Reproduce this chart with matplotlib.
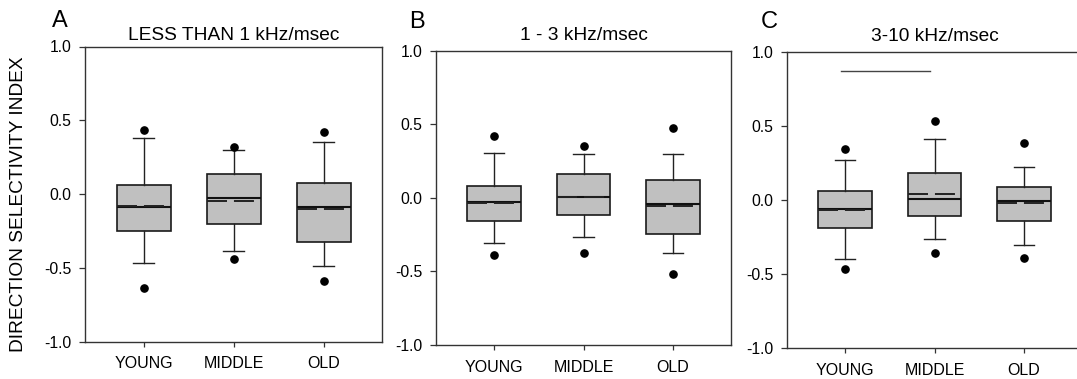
import matplotlib
matplotlib.use("Agg")
import matplotlib.pyplot as plt

plt.rcParams['font.family'] = ['Liberation Sans', 'DejaVu Sans']

groups = ["YOUNG", "MIDDLE", "OLD"]
panel_letters = ["A", "B", "C"]
titles = ["LESS THAN 1 kHz/msec", "1 - 3 kHz/msec", "3-10 kHz/msec"]

# per panel: [YOUNG, MIDDLE, OLD]
whishi = [[0.38, 0.299, 0.355], [0.303, 0.300, 0.300], [0.274, 0.414, 0.227]]
q3     = [[0.060, 0.138, 0.075], [0.081, 0.165, 0.122], [0.064, 0.184, 0.092]]
med    = [[-0.090, -0.030, -0.088], [-0.030, 0.008, -0.044], [-0.060, 0.006, -0.003]]
mean   = [[-0.084, -0.046, -0.100], [-0.033, 0.006, -0.057], [-0.066, 0.040, -0.019]]
q1     = [[-0.250, -0.202, -0.323], [-0.157, -0.118, -0.245], [-0.186, -0.107, -0.139]]
whislo = [[-0.466, -0.388, -0.489], [-0.304, -0.266, -0.374], [-0.395, -0.265, -0.301]]
flier_hi = [[0.435, 0.319, 0.420], [0.418, 0.355, 0.477], [0.346, 0.538, 0.387]]
flier_lo = [[-0.636, -0.440, -0.587], [-0.386, -0.377, -0.517], [-0.465, -0.359, -0.389]]

sig_y = 0.876
sig_x = [0.95, 1.95]

yticks = [-1.0, -0.5, 0.0, 0.5, 1.0]
ytick_labels = ["-1.0", "-0.5", "0.0", "0.5", "1.0"]

W, H = 1077, 379
fig = plt.figure(figsize=(W / 100, H / 100), dpi=100)

# axes rectangles in pixels: left, top, right, bottom
rects_px = [(85, 46.5, 382, 341.5), (436, 50.7, 731, 345), (787, 52.3, 1082, 348)]
title_pads = [5.0, 7.5, 7.8]
letter_px = [(60, 27), (416.5, 27.5), (769.5, 28.5)]

spine_color = "#333333"
for i in range(3):
    l, t, r, b = rects_px[i]
    ax = fig.add_axes([l / W, (H - b) / H, (r - l) / W, (b - t) / H])
    stats = []
    for j in range(3):
        stats.append(dict(med=med[i][j], q1=q1[i][j], q3=q3[i][j],
                          whislo=whislo[i][j], whishi=whishi[i][j],
                          mean=mean[i][j],
                          fliers=[flier_lo[i][j], flier_hi[i][j]]))
    lw_mean = 1.4
    ax.bxp(stats, positions=[1, 2, 3], widths=0.6, capwidths=0.23,
           patch_artist=True, showmeans=True, meanline=True,
           boxprops=dict(facecolor="#c0c0c0", edgecolor="#1a1a1a", linewidth=1.2),
           medianprops=dict(color="#111111", linewidth=1.5),
           meanprops=dict(color="#222222", linewidth=lw_mean,
                          linestyle=(0, (14.4 / lw_mean, 5.0 / lw_mean))),
           whiskerprops=dict(color="#222222", linewidth=1.0),
           capprops=dict(color="#222222", linewidth=1.0),
           flierprops=dict(marker="o", markerfacecolor="black",
                           markeredgecolor="black", markersize=5.2))
    if i == 2:
        ax.plot(sig_x, [sig_y, sig_y], color="#444444", linewidth=1.0)
    ax.set_xlim(0.35, 3.65)
    ax.set_ylim(-1.0, 1.0)
    ax.set_yticks(yticks)
    ax.set_yticklabels(ytick_labels)
    ax.set_xticks([1, 2, 3])
    ax.set_xticklabels(groups)
    ax.tick_params(axis="y", direction="out", length=4.3, width=0.9,
                   color=spine_color, labelsize=11.3, pad=5.5)
    ax.tick_params(axis="x", direction="out", length=3.5, width=0.9,
                   color=spine_color, labelsize=11.5, pad=7)
    for s in ax.spines.values():
        s.set_color(spine_color)
        s.set_linewidth(1.0)
    ax.set_title(titles[i], fontsize=13.8, pad=title_pads[i])
    lx, ly = letter_px[i]
    fig.text(lx / W, (H - ly) / H, panel_letters[i], fontsize=17,
             ha="center", va="baseline")

fig.text(18.3 / W, (H - 204) / H, "DIRECTION SELECTIVITY INDEX", rotation=90,
         ha="center", va="center", fontsize=13.8)

fig.savefig("out.png", dpi=100)
